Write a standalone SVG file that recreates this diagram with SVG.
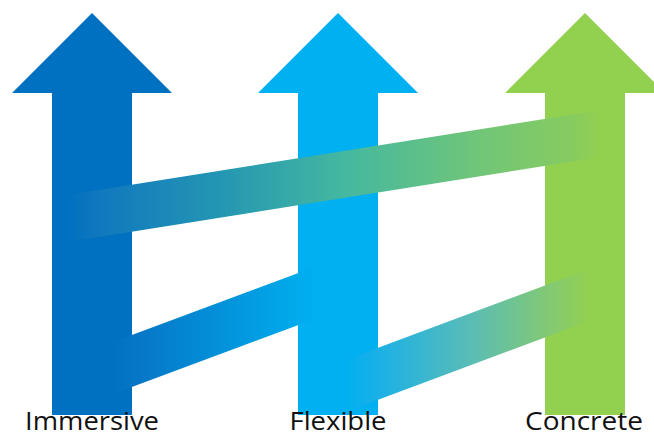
<svg xmlns="http://www.w3.org/2000/svg" width="654" height="437" viewBox="0 0 654 437">
  <style>
    .lbl { font-family: "Open Sans", "Liberation Sans", sans-serif; font-size: 25px; fill: #111111; text-anchor: middle; }
  </style>
  <defs>
    <linearGradient id="gTop" gradientUnits="userSpaceOnUse" x1="67" y1="0" x2="601" y2="0">
      <stop offset="0" stop-color="#0070C0"/>
      <stop offset="0.06" stop-color="#1078BE"/>
      <stop offset="0.3" stop-color="#2598B2"/>
      <stop offset="0.52" stop-color="#45B8A0"/>
      <stop offset="0.78" stop-color="#72C677"/>
      <stop offset="0.94" stop-color="#86CB60"/>
      <stop offset="1" stop-color="#92D050"/>
    </linearGradient>
    <linearGradient id="gLL" gradientUnits="userSpaceOnUse" x1="112" y1="0" x2="315" y2="0">
      <stop offset="0" stop-color="#0070C0"/>
      <stop offset="0.12" stop-color="#0676C6"/>
      <stop offset="1" stop-color="#00B0F0"/>
    </linearGradient>
    <linearGradient id="gLR" gradientUnits="userSpaceOnUse" x1="345" y1="0" x2="590" y2="0">
      <stop offset="0" stop-color="#00B0F0"/>
      <stop offset="0.12" stop-color="#18B0E8"/>
      <stop offset="0.5" stop-color="#58BCB8"/>
      <stop offset="0.85" stop-color="#85CA70"/>
      <stop offset="1" stop-color="#92D050"/>
    </linearGradient>
  </defs>

  <g id="arrow-immersive">
    <path d="M92,13 L172,93 L132,93 L132,415 L52,415 L52,93 L12,93 Z" fill="#0070C0"/>
  </g>
  <g id="arrow-flexible">
    <path d="M338,13 L418,93 L378,93 L378,415 L298,415 L298,93 L258,93 Z" fill="#00B0F0"/>
  </g>
  <g id="arrow-concrete">
    <path d="M585,13 L665,93 L625,93 L625,415 L545,415 L545,93 L505,93 Z" fill="#92D050"/>
  </g>

  <g id="connectors">
    <polygon points="67,195 601,110 601,157 67,242" fill="url(#gTop)"/>
    <polygon points="105,345 320,265 320,317 105,397" fill="url(#gLL)"/>
    <polygon points="340,362 592,268 592,320 340,414" fill="url(#gLR)"/>
  </g>

  <g id="labels">
    <text class="lbl" x="92" y="430" textLength="134" lengthAdjust="spacingAndGlyphs">Immersive</text>
    <text class="lbl" x="338" y="430" textLength="97" lengthAdjust="spacingAndGlyphs">Flexible</text>
    <text class="lbl" x="584" y="430" textLength="118" lengthAdjust="spacingAndGlyphs">Concrete</text>
  </g>
</svg>
